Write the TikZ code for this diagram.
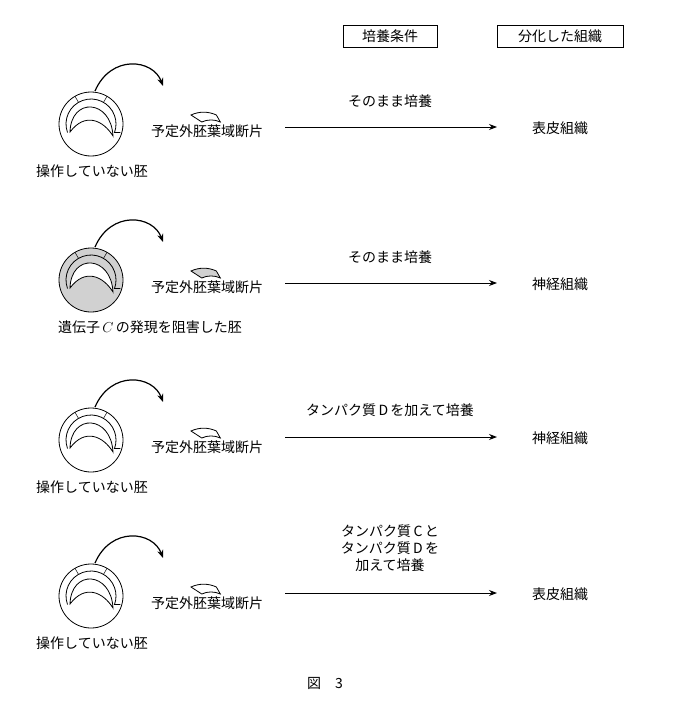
\documentclass[tikz,border=0pt]{standalone}
\usepackage{fontspec}
\setmainfont{Noto Sans CJK JP}
\usetikzlibrary{arrows.meta}
\tikzset{
	lbl/.style={font=\fontsize{14}{17}\selectfont, inner sep=1pt},
	hdr/.style={lbl, draw, line width=0.6pt, minimum width=94pt, minimum height=22pt},
	flow/.style={-{Stealth[length=8pt]}, line width=1pt},
	embryo/.pic={
		\draw[line width=0.8pt, fill=#1] (0,0) circle (32);
		\draw[line width=0.8pt] (160:25) arc (160:380:25) -- ++(6,0);
		\draw[line width=0.5pt] (240:25) -- (240:32);
		\draw[line width=0.5pt] (300:25) -- (300:32);
		\draw[line width=0.8pt, fill=white] (-21,8) .. controls (-20,-27) and (20,-25) .. (22,12) .. controls (12,-4) and (-6,-12) .. cycle;
		\draw[flow, line width=1.2pt] (4,-33) .. controls (20,-70) and (62,-65) .. (72,-38);
		\draw[line width=0.8pt, fill=#1] (100,-9) arc (245:295:30) -- ++(4,7) arc (295:245:22) -- cycle;
	},
}
\begin{document}
\begin{tikzpicture}[x=1pt, y=-1pt]
	\useasboundingbox (0,0) rectangle (687,701);

	\node[hdr] (hcond) at (390,36) {培養条件};
	\node[hdr, minimum width=126pt] (htiss) at (560,36) {分化した組織};

	% row 1
	\pic at (91,124) {embryo=white};
	\node[lbl] (frag1) at (207,131) {予定外胚葉域断片};
	\node[lbl] (emb1) at (92,171) {操作していない胚};
	\coordinate (s1) at (285,127);
	\coordinate (e1) at (497,127);
	\draw[flow] (s1) -- (e1);
	\node[lbl] (cond1) at (390,101) {そのまま培養};
	\node[lbl] (res1) at (560,128) {表皮組織};

	% row 2
	\pic at (91,280) {embryo={black!18}};
	\node[lbl] (frag2) at (207,287) {予定外胚葉域断片};
	\node[lbl] (emb2) at (150,327) {遺伝子\,$C$\,の発現を阻害した胚};
	\coordinate (s2) at (285,283);
	\coordinate (e2) at (497,283);
	\draw[flow] (s2) -- (e2);
	\node[lbl] (cond2) at (390,257) {そのまま培養};
	\node[lbl] (res2) at (560,284) {神経組織};

	% row 3
	\pic at (91,440) {embryo=white};
	\node[lbl] (frag3) at (207,447) {予定外胚葉域断片};
	\node[lbl] (emb3) at (92,487) {操作していない胚};
	\coordinate (s3) at (285,437);
	\coordinate (e3) at (497,437);
	\draw[flow] (s3) -- (e3);
	\node[lbl] (cond3) at (390,410) {タンパク質\,D\,を加えて培養};
	\node[lbl] (res3) at (560,438) {神経組織};

	% row 4
	\pic at (91,596) {embryo=white};
	\node[lbl] (frag4) at (207,603) {予定外胚葉域断片};
	\node[lbl] (emb4) at (92,643) {操作していない胚};
	\coordinate (s4) at (285,593);
	\coordinate (e4) at (497,593);
	\draw[flow] (s4) -- (e4);
	\node[lbl, align=center] (cond4) at (390,548) {タンパク質\,C\,と\\タンパク質\,D\,を\\加えて培養};
	\node[lbl] (res4) at (560,594) {表皮組織};

	\node[lbl] (cap) at (325,683) {図\quad 3};
\end{tikzpicture}
\end{document}
